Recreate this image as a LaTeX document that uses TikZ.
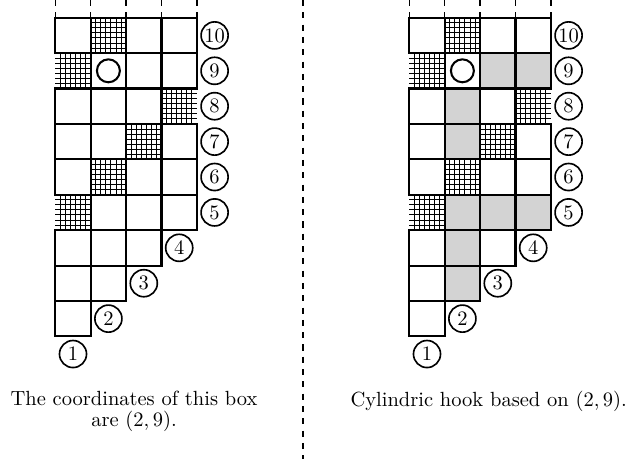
\documentclass[tikz,border=0pt]{standalone}
\definecolor{hookgray}{RGB}{211,211,211}
\tikzset{
  cellline/.style={line width=1pt},
  hatchline/.style={line width=0.45pt},
  lab/.style={circle,draw,line width=0.8pt,inner sep=0pt,minimum size=13.2pt},
  sepline/.style={dashed,line width=0.75pt},
  panelunit/.style={x=17.27pt,y=-17.27pt}
}
\newcommand\mypanel[1]{%
  % hatched boxes
  \foreach \c/\r in {2/10,1/9,4/8,3/7,2/6,1/5}{
    \foreach \k in {1,...,6}{
      \draw[hatchline] ({\c-1+\k/7},{10-\r}) -- ++(0,1);
      \draw[hatchline] ({\c-1},{10-\r+\k/7}) -- ++(1,0);
    }
  }
  % boxes
  \foreach \c/\r in {1/10,2/10,3/10,4/10, 2/9,3/9,4/9, 1/8,2/8,3/8,
                     1/7,2/7,3/7,4/7, 1/6,2/6,3/6,4/6, 2/5,3/5,4/5,
                     1/4,2/4,3/4, 1/3,2/3, 1/2}{
    \draw[cellline] ({\c-1},{10-\r}) rectangle ++(1,1);
  }
  % boxes open on the cylinder side
  \draw[cellline] (0,1) -- (1,1) -- (1,2) -- (0,2);
  \draw[cellline] (0,5) -- (1,5) -- (1,6) -- (0,6);
  \draw[cellline] (4,2) -- (3,2) -- (3,3) -- (4,3);
  % dashed continuation above
  \foreach \c in {0,...,4}{
    \draw[sepline] (\c,-0.5) -- (\c,0);
  }
  % marked box
  \node[circle,draw,cellline,minimum size=11.2pt,inner sep=0pt] (#1mark) at (1.5,1.5) {};
  % labels
  \node[lab] (#1l1) at (0.5,9.5) {1};
  \node[lab] (#1l2) at (1.5,8.5) {2};
  \node[lab] (#1l3) at (2.5,7.5) {3};
  \node[lab] (#1l4) at (3.5,6.5) {4};
  \foreach \k in {5,...,10}{
    \node[lab] (#1l\k) at (4.5,{10.5-\k}) {\k};
  }
}
\begin{document}
\begin{tikzpicture}[x=0.4878pt,y=-0.4878pt]
  \useasboundingbox (0,0) rectangle (629,459);
  % left panel
  \begin{scope}[shift={(55.3,17.7)},panelunit]
    \mypanel{L}
  \end{scope}
  % right panel
  \begin{scope}[shift={(409.3,17.7)},panelunit]
    \foreach \c/\r in {3/9,4/9,2/8,2/7,2/5,3/5,4/5,2/4,2/3}{
      \fill[hookgray] ({\c-1},{10-\r}) rectangle ++(1,1);
    }
    \mypanel{R}
  \end{scope}
  % divider
  \draw[sepline] (303,0) -- (303,459);
  % captions
  \node[anchor=base,inner sep=0pt] (capL1) at (134,405) {The coordinates of this box};
  \node[anchor=base,inner sep=0pt] (capL2) at (134,427) {are $(2,9)$.};
  \node[anchor=base,inner sep=0pt] (capR) at (488.7,406) {Cylindric hook based on $(2,9)$.};
\end{tikzpicture}
\end{document}
